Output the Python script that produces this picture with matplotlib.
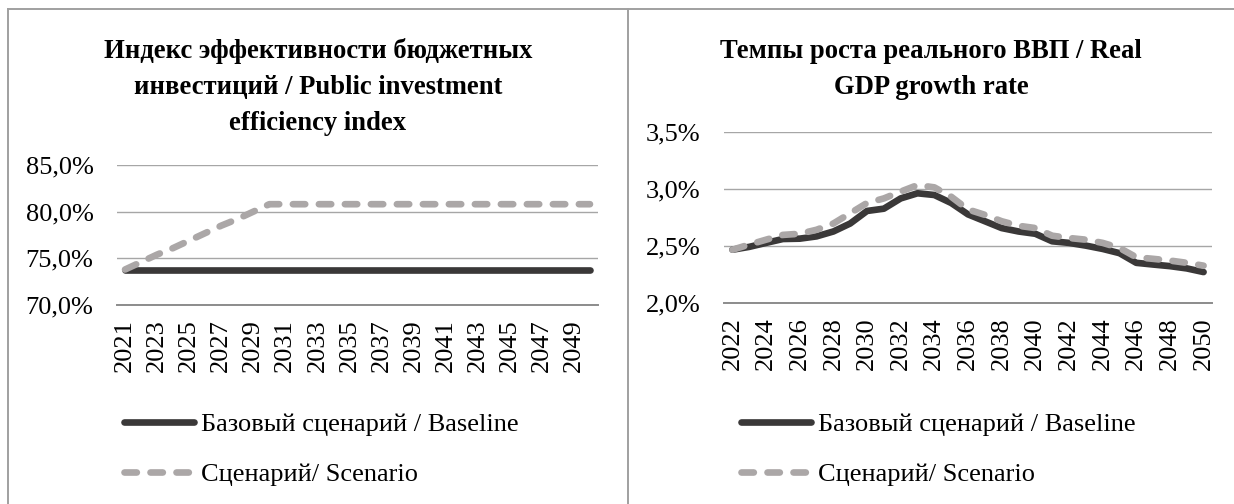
import matplotlib
matplotlib.use("Agg")
import matplotlib.pyplot as plt
from matplotlib.lines import Line2D
from matplotlib.ticker import FixedLocator, FuncFormatter
import numpy as np

plt.rcParams['font.family'] = ['Liberation Serif', 'DejaVu Serif']

# ---------------- data ----------------
left_years = [2021, 2022, 2023, 2024, 2025, 2026, 2027, 2028, 2029, 2030,
              2031, 2032, 2033, 2034, 2035, 2036, 2037, 2038, 2039, 2040,
              2041, 2042, 2043, 2044, 2045, 2046, 2047, 2048, 2049, 2050]
left_baseline = [73.8, 73.8, 73.8, 73.8, 73.8, 73.8, 73.8, 73.8, 73.8, 73.8,
                 73.8, 73.8, 73.8, 73.8, 73.8, 73.8, 73.8, 73.8, 73.8, 73.8,
                 73.8, 73.8, 73.8, 73.8, 73.8, 73.8, 73.8, 73.8, 73.8, 73.8]
left_scenario = [73.8, 74.6, 75.4, 76.1, 76.9, 77.7, 78.5, 79.2, 80.0, 80.8,
                 80.8, 80.8, 80.8, 80.8, 80.8, 80.8, 80.8, 80.8, 80.8, 80.8,
                 80.8, 80.8, 80.8, 80.8, 80.8, 80.8, 80.8, 80.8, 80.8, 80.8]
left_yticks = [70.0, 75.0, 80.0, 85.0]

right_years = [2022, 2023, 2024, 2025, 2026, 2027, 2028, 2029, 2030, 2031,
               2032, 2033, 2034, 2035, 2036, 2037, 2038, 2039, 2040, 2041,
               2042, 2043, 2044, 2045, 2046, 2047, 2048, 2049, 2050]
right_baseline = [2.47, 2.495, 2.53, 2.564, 2.567, 2.587, 2.63, 2.70, 2.81, 2.83,
                  2.92, 2.965, 2.95, 2.88, 2.78, 2.72, 2.66, 2.63, 2.61, 2.544,
                  2.53, 2.506, 2.477, 2.44, 2.355, 2.34, 2.326, 2.306, 2.274]
right_scenario = [2.47, 2.515, 2.558, 2.60, 2.61, 2.645, 2.70, 2.79, 2.88, 2.92,
                  2.98, 3.037, 3.017, 2.935, 2.823, 2.776, 2.72, 2.68, 2.66, 2.593,
                  2.573, 2.558, 2.53, 2.486, 2.404, 2.39, 2.375, 2.355, 2.33]
right_yticks = [2.0, 2.5, 3.0, 3.5]

left_title = ["Индекс эффективности бюджетных",
              "инвестиций / Public investment",
              "efficiency index"]
right_title = ["Темпы роста реального ВВП / Real",
               "GDP growth rate"]
label_base = "Базовый сценарий / Baseline"
label_scen = "Сценарий/ Scenario"

# ---------------- style ----------------
W, H = 1234, 504
DPI = 100
FS = 19
TFS = 19.2
DARK = '#3a3838'
LIGHT = '#aba7a7'
GRID = '#a6a6a6'
AXIS = '#8c8c8c'
BORDER = '#a0a0a0'

fig = plt.figure(figsize=(W / DPI, H / DPI), dpi=DPI)
fig.patch.set_facecolor('white')


def fx(px):
    return px / W


def fy(py):
    return 1 - py / H


def add_axes(x0, x1, y0, y1):
    return fig.add_axes([fx(x0), fy(y1), fx(x1) - fx(x0), fy(y0) - fy(y1)])


# panel borders
for (xa, ya, xb, yb) in [(8, 9, 1234, 9), (8, 9, 8, 504), (628, 9, 628, 504)]:
    fig.add_artist(Line2D([fx(xa), fx(xb)], [fy(ya), fy(yb)],
                          color=BORDER, lw=1.4, transform=fig.transFigure))


def style_axes(ax, years, base, scen, yticks, ylim, fmt, tick_every):
    n = len(years)
    x = np.arange(n)
    ax.plot(x, base, color=DARK, lw=4.8, solid_capstyle='round',
            solid_joinstyle='round', label=label_base, zorder=3, clip_on=False)
    ax.plot(x, scen, color=LIGHT, lw=4.8, dashes=(1.85, 2.05),
            dash_capstyle='round', dash_joinstyle='round', label=label_scen,
            zorder=4, clip_on=False)
    ax.set_xlim(-0.5, n - 0.5)
    ax.set_ylim(*ylim)
    ax.yaxis.set_major_locator(FixedLocator(yticks))
    ax.yaxis.set_major_formatter(FuncFormatter(fmt))
    ax.set_xticks(x[::tick_every])
    ax.set_xticklabels([str(y) for y in years][::tick_every], rotation=90)
    ax.tick_params(axis='y', length=0, pad=17, labelsize=FS)
    ax.tick_params(axis='x', length=0, pad=10, labelsize=FS)
    for s in ['top', 'right', 'left']:
        ax.spines[s].set_visible(False)
    ax.spines['bottom'].set_color(AXIS)
    ax.spines['bottom'].set_linewidth(1.4)
    ax.grid(axis='y', color=GRID, lw=1.0)
    ax.set_axisbelow(True)
    ax.set_facecolor('none')


def fmt_pct(v, pos):
    return f"{v:.1f}%".replace('.', ',')


axL = add_axes(117, 598, 165, 305)
style_axes(axL, left_years, left_baseline, left_scenario, left_yticks,
           (70.0, 85.0), fmt_pct, 2)

axR = add_axes(724, 1212, 132.3, 303.3)
style_axes(axR, right_years, right_baseline, right_scenario, right_yticks,
           (2.0, 3.5), fmt_pct, 2)

# titles
for i, line in enumerate(left_title):
    fig.text(fx(318), fy(58 + 36 * i), line, ha='center', va='baseline',
             fontsize=TFS, fontweight='bold')
for i, line in enumerate(right_title):
    fig.text(fx(931), fy(58 + 36 * i), line, ha='center', va='baseline',
             fontsize=TFS, fontweight='bold')

# legends
for ax, lx in [(axL, 124), (axR, 741)]:
    ax.legend(loc='upper left', bbox_to_anchor=(fx(lx), fy(413)),
              bbox_transform=fig.transFigure, frameon=False, fontsize=FS,
              handlelength=2.67, handletextpad=0.23, labelspacing=0.98,
              borderpad=0, borderaxespad=0)

fig.savefig('out.png', dpi=DPI, facecolor='white')
